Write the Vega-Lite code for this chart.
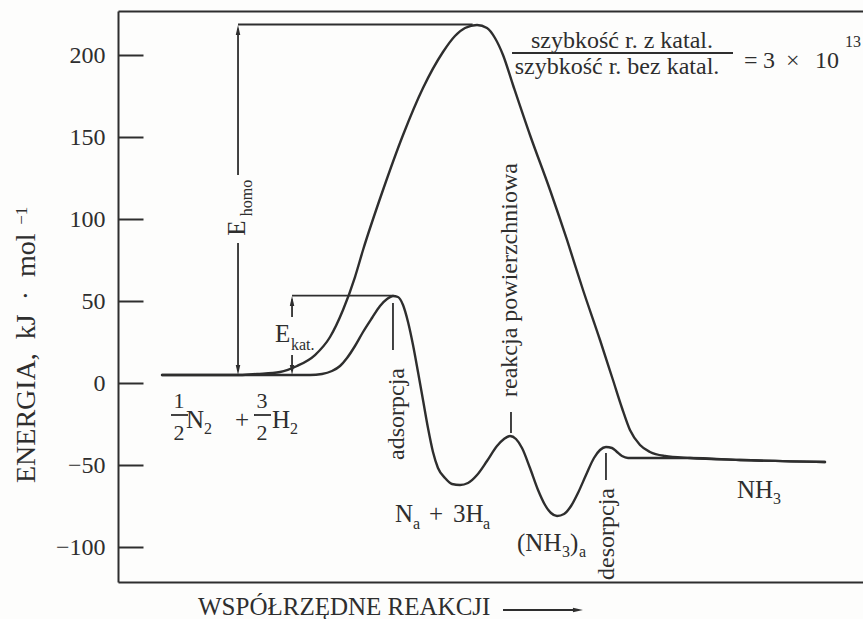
{
  "$schema": "https://vega.github.io/schema/vega-lite/v6.json",
  "width": 745,
  "height": 571,
  "autosize": {"type": "none"},
  "padding": {"left": 118, "top": 11, "right": 0, "bottom": 37},
  "background": "#fdfdfc",
  "config": {
    "view": {"stroke": null},
    "axis": {"domain": false, "ticks": false, "labels": false, "grid": false}
  },
  "datasets": {
    "curves": [
      {"path": "bez katalizatora", "x": 5.91, "E": 4.88},
      {"path": "bez katalizatora", "x": 11.01, "E": 4.88},
      {"path": "bez katalizatora", "x": 16.38, "E": 4.88},
      {"path": "bez katalizatora", "x": 18.66, "E": 5.49},
      {"path": "bez katalizatora", "x": 21.74, "E": 6.71},
      {"path": "bez katalizatora", "x": 24.03, "E": 10.37},
      {"path": "bez katalizatora", "x": 26.44, "E": 17.07},
      {"path": "bez katalizatora", "x": 28.46, "E": 28.05},
      {"path": "bez katalizatora", "x": 30.2, "E": 44.51},
      {"path": "bez katalizatora", "x": 31.81, "E": 64.63},
      {"path": "bez katalizatora", "x": 32.89, "E": 81.1},
      {"path": "bez katalizatora", "x": 35.57, "E": 117.68},
      {"path": "bez katalizatora", "x": 38.26, "E": 151.22},
      {"path": "bez katalizatora", "x": 40.94, "E": 179.88},
      {"path": "bez katalizatora", "x": 43.62, "E": 201.83},
      {"path": "bez katalizatora", "x": 45.23, "E": 211.59},
      {"path": "bez katalizatora", "x": 46.58, "E": 216.46},
      {"path": "bez katalizatora", "x": 48.19, "E": 218.3},
      {"path": "bez katalizatora", "x": 49.53, "E": 216.46},
      {"path": "bez katalizatora", "x": 50.6, "E": 210.37},
      {"path": "bez katalizatora", "x": 51.68, "E": 200.0},
      {"path": "bez katalizatora", "x": 53.02, "E": 181.71},
      {"path": "bez katalizatora", "x": 55.3, "E": 151.22},
      {"path": "bez katalizatora", "x": 57.99, "E": 117.68},
      {"path": "bez katalizatora", "x": 60.27, "E": 87.2},
      {"path": "bez katalizatora", "x": 62.42, "E": 56.71},
      {"path": "bez katalizatora", "x": 64.7, "E": 26.22},
      {"path": "bez katalizatora", "x": 66.44, "E": 1.83},
      {"path": "bez katalizatora", "x": 67.65, "E": -15.24},
      {"path": "bez katalizatora", "x": 68.72, "E": -28.66},
      {"path": "bez katalizatora", "x": 70.07, "E": -37.8},
      {"path": "bez katalizatora", "x": 71.41, "E": -42.07},
      {"path": "bez katalizatora", "x": 73.42, "E": -44.51},
      {"path": "bez katalizatora", "x": 76.78, "E": -45.73},
      {"path": "bez katalizatora", "x": 83.49, "E": -46.95},
      {"path": "bez katalizatora", "x": 94.9, "E": -48.17},
      {"path": "z katalizatorem", "x": 5.91, "E": 4.88},
      {"path": "z katalizatorem", "x": 18.66, "E": 4.88},
      {"path": "z katalizatorem", "x": 25.77, "E": 4.88},
      {"path": "z katalizatorem", "x": 27.38, "E": 5.49},
      {"path": "z katalizatorem", "x": 28.72, "E": 7.32},
      {"path": "z katalizatorem", "x": 29.8, "E": 10.37},
      {"path": "z katalizatorem", "x": 30.74, "E": 15.24},
      {"path": "z katalizatorem", "x": 31.81, "E": 22.56},
      {"path": "z katalizatorem", "x": 32.89, "E": 31.1},
      {"path": "z katalizatorem", "x": 34.09, "E": 39.63},
      {"path": "z katalizatorem", "x": 35.17, "E": 46.95},
      {"path": "z katalizatorem", "x": 36.11, "E": 51.22},
      {"path": "z katalizatorem", "x": 36.91, "E": 53.05},
      {"path": "z katalizatorem", "x": 37.58, "E": 52.44},
      {"path": "z katalizatorem", "x": 38.26, "E": 47.56},
      {"path": "z katalizatorem", "x": 38.93, "E": 37.2},
      {"path": "z katalizatorem", "x": 39.6, "E": 23.17},
      {"path": "z katalizatorem", "x": 40.27, "E": 6.71},
      {"path": "z katalizatorem", "x": 40.94, "E": -10.37},
      {"path": "z katalizatorem", "x": 41.61, "E": -27.44},
      {"path": "z katalizatorem", "x": 42.28, "E": -42.07},
      {"path": "z katalizatorem", "x": 42.95, "E": -51.83},
      {"path": "z katalizatorem", "x": 43.89, "E": -57.93},
      {"path": "z katalizatorem", "x": 44.83, "E": -61.59},
      {"path": "z katalizatorem", "x": 45.91, "E": -62.2},
      {"path": "z katalizatorem", "x": 46.98, "E": -60.98},
      {"path": "z katalizatorem", "x": 48.19, "E": -56.1},
      {"path": "z katalizatorem", "x": 49.53, "E": -47.56},
      {"path": "z katalizatorem", "x": 50.87, "E": -38.41},
      {"path": "z katalizatorem", "x": 51.81, "E": -34.15},
      {"path": "z katalizatorem", "x": 52.62, "E": -32.32},
      {"path": "z katalizatorem", "x": 53.42, "E": -34.15},
      {"path": "z katalizatorem", "x": 54.23, "E": -39.63},
      {"path": "z katalizatorem", "x": 55.3, "E": -51.83},
      {"path": "z katalizatorem", "x": 56.38, "E": -65.24},
      {"path": "z katalizatorem", "x": 57.32, "E": -74.39},
      {"path": "z katalizatorem", "x": 58.12, "E": -79.27},
      {"path": "z katalizatorem", "x": 58.93, "E": -81.1},
      {"path": "z katalizatorem", "x": 59.87, "E": -79.88},
      {"path": "z katalizatorem", "x": 60.81, "E": -75.0},
      {"path": "z katalizatorem", "x": 61.74, "E": -67.07},
      {"path": "z katalizatorem", "x": 62.82, "E": -56.1},
      {"path": "z katalizatorem", "x": 63.89, "E": -45.73},
      {"path": "z katalizatorem", "x": 64.7, "E": -40.85},
      {"path": "z katalizatorem", "x": 65.5, "E": -39.02},
      {"path": "z katalizatorem", "x": 66.31, "E": -39.63},
      {"path": "z katalizatorem", "x": 66.98, "E": -42.07},
      {"path": "z katalizatorem", "x": 67.65, "E": -44.51},
      {"path": "z katalizatorem", "x": 68.46, "E": -45.73},
      {"path": "z katalizatorem", "x": 71.41, "E": -45.73},
      {"path": "z katalizatorem", "x": 76.78, "E": -45.73},
      {"path": "z katalizatorem", "x": 83.49, "E": -46.95},
      {"path": "z katalizatorem", "x": 94.9, "E": -48.17}
    ],
    "segments": [
      {"part": "E_homo poziom", "x": 16.11, "x2": 47.6, "E": 218.6, "E2": 218.6},
      {"part": "E_homo góra", "x": 16.11, "x2": 16.11, "E": 216.0, "E2": 126.8},
      {"part": "E_homo dół", "x": 16.11, "x2": 16.11, "E": 85.4, "E2": 7.5},
      {"part": "E_kat poziom", "x": 23.36, "x2": 37.0, "E": 53.3, "E2": 53.3},
      {"part": "E_kat góra", "x": 23.36, "x2": 23.36, "E": 51.0, "E2": 40.2},
      {"part": "E_kat dół", "x": 23.36, "x2": 23.36, "E": 17.07, "E2": 7.5},
      {"part": "adsorpcja", "x": 36.91, "x2": 36.91, "E": 48.8, "E2": 20.1},
      {"part": "reakcja", "x": 52.75, "x2": 52.75, "E": -17.7, "E2": -30.5},
      {"part": "desorpcja", "x": 65.5, "x2": 65.5, "E": -42.7, "E2": -59.1},
      {"part": "ułamek 1/2", "x": 7.11, "x2": 9.4, "E": -19.51, "E2": -19.51},
      {"part": "ułamek 3/2", "x": 18.26, "x2": 20.54, "E": -19.51, "E2": -19.51},
      {"part": "ułamek szybkości", "x": 52.89, "x2": 82.55, "E": 201.22, "E2": 201.22},
      {"part": "strzałka osi", "x": 51.68, "x2": 61.3, "E": -138.41, "E2": -138.41}
    ],
    "heads": [
      {"dir": "up", "x": 16.11, "E": 215.25},
      {"dir": "down", "x": 16.11, "E": 7.93},
      {"dir": "up", "x": 23.36, "E": 50.0},
      {"dir": "down", "x": 23.36, "E": 7.93},
      {"dir": "right", "x": 61.74, "E": -138.41}
    ],
    "labels": [
      {"kind": "main", "text": "N", "x": 37.18, "E": -84.76},
      {"kind": "main", "text": "+", "x": 41.74, "E": -84.76},
      {"kind": "main", "text": "3H", "x": 44.97, "E": -84.76},
      {"kind": "main", "text": "(NH", "x": 53.56, "E": -102.44},
      {"kind": "main", "text": ")", "x": 60.67, "E": -102.44},
      {"kind": "main", "text": "NH", "x": 83.09, "E": -70.12},
      {"kind": "main", "text": "N", "x": 9.13, "E": -27.44},
      {"kind": "main", "text": "+", "x": 15.7, "E": -27.44},
      {"kind": "main", "text": "H", "x": 20.67, "E": -27.44},
      {"kind": "main", "text": "E", "x": 21.07, "E": 25.0},
      {"kind": "sub", "text": "a", "x": 39.6, "E": -89.02},
      {"kind": "sub", "text": "a", "x": 48.99, "E": -89.02},
      {"kind": "sub", "text": "3", "x": 59.6, "E": -106.1},
      {"kind": "sub", "text": "a", "x": 61.88, "E": -106.1},
      {"kind": "sub", "text": "3", "x": 87.92, "E": -73.78},
      {"kind": "sub", "text": "2", "x": 11.54, "E": -31.1},
      {"kind": "sub", "text": "2", "x": 23.09, "E": -31.1},
      {"kind": "sub", "text": "kat.", "x": 23.22, "E": 20.12},
      {"kind": "sup", "text": "13", "x": 97.58, "E": 204.88},
      {"kind": "frac", "text": "1", "x": 8.19, "E": -15.24},
      {"kind": "frac", "text": "2", "x": 8.19, "E": -34.76},
      {"kind": "frac", "text": "3", "x": 19.33, "E": -15.24},
      {"kind": "frac", "text": "2", "x": 19.33, "E": -34.76},
      {"kind": "ratio", "text": "szybkość r. z katal.", "x": 67.65, "E": 204.27},
      {"kind": "ratio", "text": "szybkość r. bez katal.", "x": 66.98, "E": 188.41},
      {"kind": "piece", "text": "=", "x": 84.03, "E": 192.07},
      {"kind": "piece", "text": "3", "x": 86.58, "E": 192.07},
      {"kind": "piece", "text": "×", "x": 89.66, "E": 192.07},
      {"kind": "piece", "text": "10", "x": 93.56, "E": 192.07},
      {"kind": "xtitle", "text": "WSPÓŁRZĘDNE REAKCJI", "x": 10.74, "E": -141.46},
      {"kind": "rot", "text": "adsorpcja", "x": 37.45, "E": -18.9},
      {"kind": "rot", "text": "reakcja powierzchniowa", "x": 52.62, "E": 62.8},
      {"kind": "rot", "text": "desorpcja", "x": 65.64, "E": -92.07},
      {"kind": "rotbig", "text": "E", "x": 15.97, "E": 94.51},
      {"kind": "rotsub", "text": "homo", "x": 17.32, "E": 112.8},
      {"kind": "ytitle", "text": "ENERGIA,\u00a0 kJ\u00a0 ·\u00a0 mol", "x": -11.14, "E": -60.98},
      {"kind": "ytitlesup", "text": "−1", "x": -12.21, "E": 96.5}
    ]
  },
  "layer": [
    {
      "data": {"name": "curves"},
      "mark": {"type": "line", "interpolate": "monotone", "color": "#2e2e2e", "strokeWidth": 2.4, "strokeCap": "round"},
      "encoding": {
        "x": {"field": "x", "type": "quantitative", "scale": {"domain": [0, 100], "nice": false, "zero": false}, "axis": {"orient": "bottom", "domain": true, "domainColor": "#2e2e2e", "domainWidth": 2, "ticks": false, "labels": false, "grid": false, "title": null}},
        "y": {"field": "E", "type": "quantitative", "scale": {"domain": [-121.34, 226.83], "nice": false, "zero": false}, "axis": {"orient": "left", "values": [-100, -50, 0, 50, 100, 150, 200], "domain": true, "domainColor": "#2e2e2e", "domainWidth": 2, "ticks": true, "tickSize": -25, "tickWidth": 2, "tickColor": "#2e2e2e", "labels": true, "labelFont": "Liberation Serif", "labelFontSize": 24, "labelColor": "#2e2e2e", "labelPadding": 38, "grid": false, "title": null}},
        "detail": {"field": "path"}
      }
    },
    {
      "data": {"name": "curves"},
      "mark": {"type": "line", "opacity": 0},
      "encoding": {
        "x": {"field": "x", "type": "quantitative", "axis": {"orient": "top", "domain": true, "domainColor": "#2e2e2e", "domainWidth": 2, "ticks": false, "labels": false, "grid": false, "title": null}},
        "y": {"field": "E", "type": "quantitative", "axis": {"title": null}},
        "detail": {"field": "path"}
      }
    },
    {
      "data": {"name": "segments"},
      "mark": {"type": "rule", "color": "#2e2e2e", "strokeWidth": 1.8},
      "encoding": {
        "x": {"field": "x", "type": "quantitative", "axis": {"title": null}},
        "x2": {"field": "x2"},
        "y": {"field": "E", "type": "quantitative", "axis": {"title": null}},
        "y2": {"field": "E2"}
      }
    },
    {
      "data": {"name": "heads"},
      "transform": [{"filter": "datum.dir === 'up'"}],
      "mark": {"type": "point", "shape": "M0,-1L0.45,1L-0.45,1Z", "size": 100, "filled": true, "color": "#2e2e2e", "opacity": 1},
      "encoding": {"x": {"field": "x", "type": "quantitative", "axis": {"title": null}}, "y": {"field": "E", "type": "quantitative", "axis": {"title": null}}}
    },
    {
      "data": {"name": "heads"},
      "transform": [{"filter": "datum.dir === 'down'"}],
      "mark": {"type": "point", "shape": "M0,1L0.45,-1L-0.45,-1Z", "size": 100, "filled": true, "color": "#2e2e2e", "opacity": 1},
      "encoding": {"x": {"field": "x", "type": "quantitative", "axis": {"title": null}}, "y": {"field": "E", "type": "quantitative", "axis": {"title": null}}}
    },
    {
      "data": {"name": "heads"},
      "transform": [{"filter": "datum.dir === 'right'"}],
      "mark": {"type": "point", "shape": "M1,0L-1,0.45L-1,-0.45Z", "size": 100, "filled": true, "color": "#2e2e2e", "opacity": 1},
      "encoding": {"x": {"field": "x", "type": "quantitative", "axis": {"title": null}}, "y": {"field": "E", "type": "quantitative", "axis": {"title": null}}}
    },
    {
      "data": {"name": "labels"},
      "transform": [{"filter": "datum.kind === 'main'"}],
      "mark": {"type": "text", "font": "Liberation Serif", "fontSize": 25, "align": "left", "baseline": "alphabetic", "color": "#2e2e2e"},
      "encoding": {"x": {"field": "x", "type": "quantitative", "axis": {"title": null}}, "y": {"field": "E", "type": "quantitative", "axis": {"title": null}}, "text": {"field": "text"}}
    },
    {
      "data": {"name": "labels"},
      "transform": [{"filter": "datum.kind === 'sub' || datum.kind === 'sup'"}],
      "mark": {"type": "text", "font": "Liberation Serif", "fontSize": 16, "align": "left", "baseline": "alphabetic", "color": "#2e2e2e"},
      "encoding": {"x": {"field": "x", "type": "quantitative", "axis": {"title": null}}, "y": {"field": "E", "type": "quantitative", "axis": {"title": null}}, "text": {"field": "text"}}
    },
    {
      "data": {"name": "labels"},
      "transform": [{"filter": "datum.kind === 'frac'"}],
      "mark": {"type": "text", "font": "Liberation Serif", "fontSize": 22, "align": "center", "baseline": "alphabetic", "color": "#2e2e2e"},
      "encoding": {"x": {"field": "x", "type": "quantitative", "axis": {"title": null}}, "y": {"field": "E", "type": "quantitative", "axis": {"title": null}}, "text": {"field": "text"}}
    },
    {
      "data": {"name": "labels"},
      "transform": [{"filter": "datum.kind === 'ratio'"}],
      "mark": {"type": "text", "font": "Liberation Serif", "fontSize": 24, "align": "center", "baseline": "alphabetic", "color": "#2e2e2e"},
      "encoding": {"x": {"field": "x", "type": "quantitative", "axis": {"title": null}}, "y": {"field": "E", "type": "quantitative", "axis": {"title": null}}, "text": {"field": "text"}}
    },
    {
      "data": {"name": "labels"},
      "transform": [{"filter": "datum.kind === 'piece'"}],
      "mark": {"type": "text", "font": "Liberation Serif", "fontSize": 24, "align": "left", "baseline": "alphabetic", "color": "#2e2e2e"},
      "encoding": {"x": {"field": "x", "type": "quantitative", "axis": {"title": null}}, "y": {"field": "E", "type": "quantitative", "axis": {"title": null}}, "text": {"field": "text"}}
    },
    {
      "data": {"name": "labels"},
      "transform": [{"filter": "datum.kind === 'xtitle'"}],
      "mark": {"type": "text", "font": "Liberation Serif", "fontSize": 25, "align": "left", "baseline": "alphabetic", "color": "#2e2e2e"},
      "encoding": {"x": {"field": "x", "type": "quantitative", "axis": {"title": null}}, "y": {"field": "E", "type": "quantitative", "axis": {"title": null}}, "text": {"field": "text"}}
    },
    {
      "data": {"name": "labels"},
      "transform": [{"filter": "datum.kind === 'rot'"}],
      "mark": {"type": "text", "font": "Liberation Serif", "fontSize": 24, "angle": 270, "align": "center", "baseline": "middle", "color": "#2e2e2e"},
      "encoding": {"x": {"field": "x", "type": "quantitative", "axis": {"title": null}}, "y": {"field": "E", "type": "quantitative", "axis": {"title": null}}, "text": {"field": "text"}}
    },
    {
      "data": {"name": "labels"},
      "transform": [{"filter": "datum.kind === 'rotbig'"}],
      "mark": {"type": "text", "font": "Liberation Serif", "fontSize": 25, "angle": 270, "align": "center", "baseline": "middle", "color": "#2e2e2e"},
      "encoding": {"x": {"field": "x", "type": "quantitative", "axis": {"title": null}}, "y": {"field": "E", "type": "quantitative", "axis": {"title": null}}, "text": {"field": "text"}}
    },
    {
      "data": {"name": "labels"},
      "transform": [{"filter": "datum.kind === 'rotsub'"}],
      "mark": {"type": "text", "font": "Liberation Serif", "fontSize": 16, "angle": 270, "align": "center", "baseline": "middle", "color": "#2e2e2e"},
      "encoding": {"x": {"field": "x", "type": "quantitative", "axis": {"title": null}}, "y": {"field": "E", "type": "quantitative", "axis": {"title": null}}, "text": {"field": "text"}}
    },
    {
      "data": {"name": "labels"},
      "transform": [{"filter": "datum.kind === 'ytitle'"}],
      "mark": {"type": "text", "font": "Liberation Serif", "fontSize": 28, "angle": 270, "align": "left", "baseline": "alphabetic", "color": "#2e2e2e"},
      "encoding": {"x": {"field": "x", "type": "quantitative", "axis": {"title": null}}, "y": {"field": "E", "type": "quantitative", "axis": {"title": null}}, "text": {"field": "text"}}
    },
    {
      "data": {"name": "labels"},
      "transform": [{"filter": "datum.kind === 'ytitlesup'"}],
      "mark": {"type": "text", "font": "Liberation Serif", "fontSize": 17, "angle": 270, "align": "left", "baseline": "alphabetic", "color": "#2e2e2e"},
      "encoding": {"x": {"field": "x", "type": "quantitative", "axis": {"title": null}}, "y": {"field": "E", "type": "quantitative", "axis": {"title": null}}, "text": {"field": "text"}}
    }
  ]
}
